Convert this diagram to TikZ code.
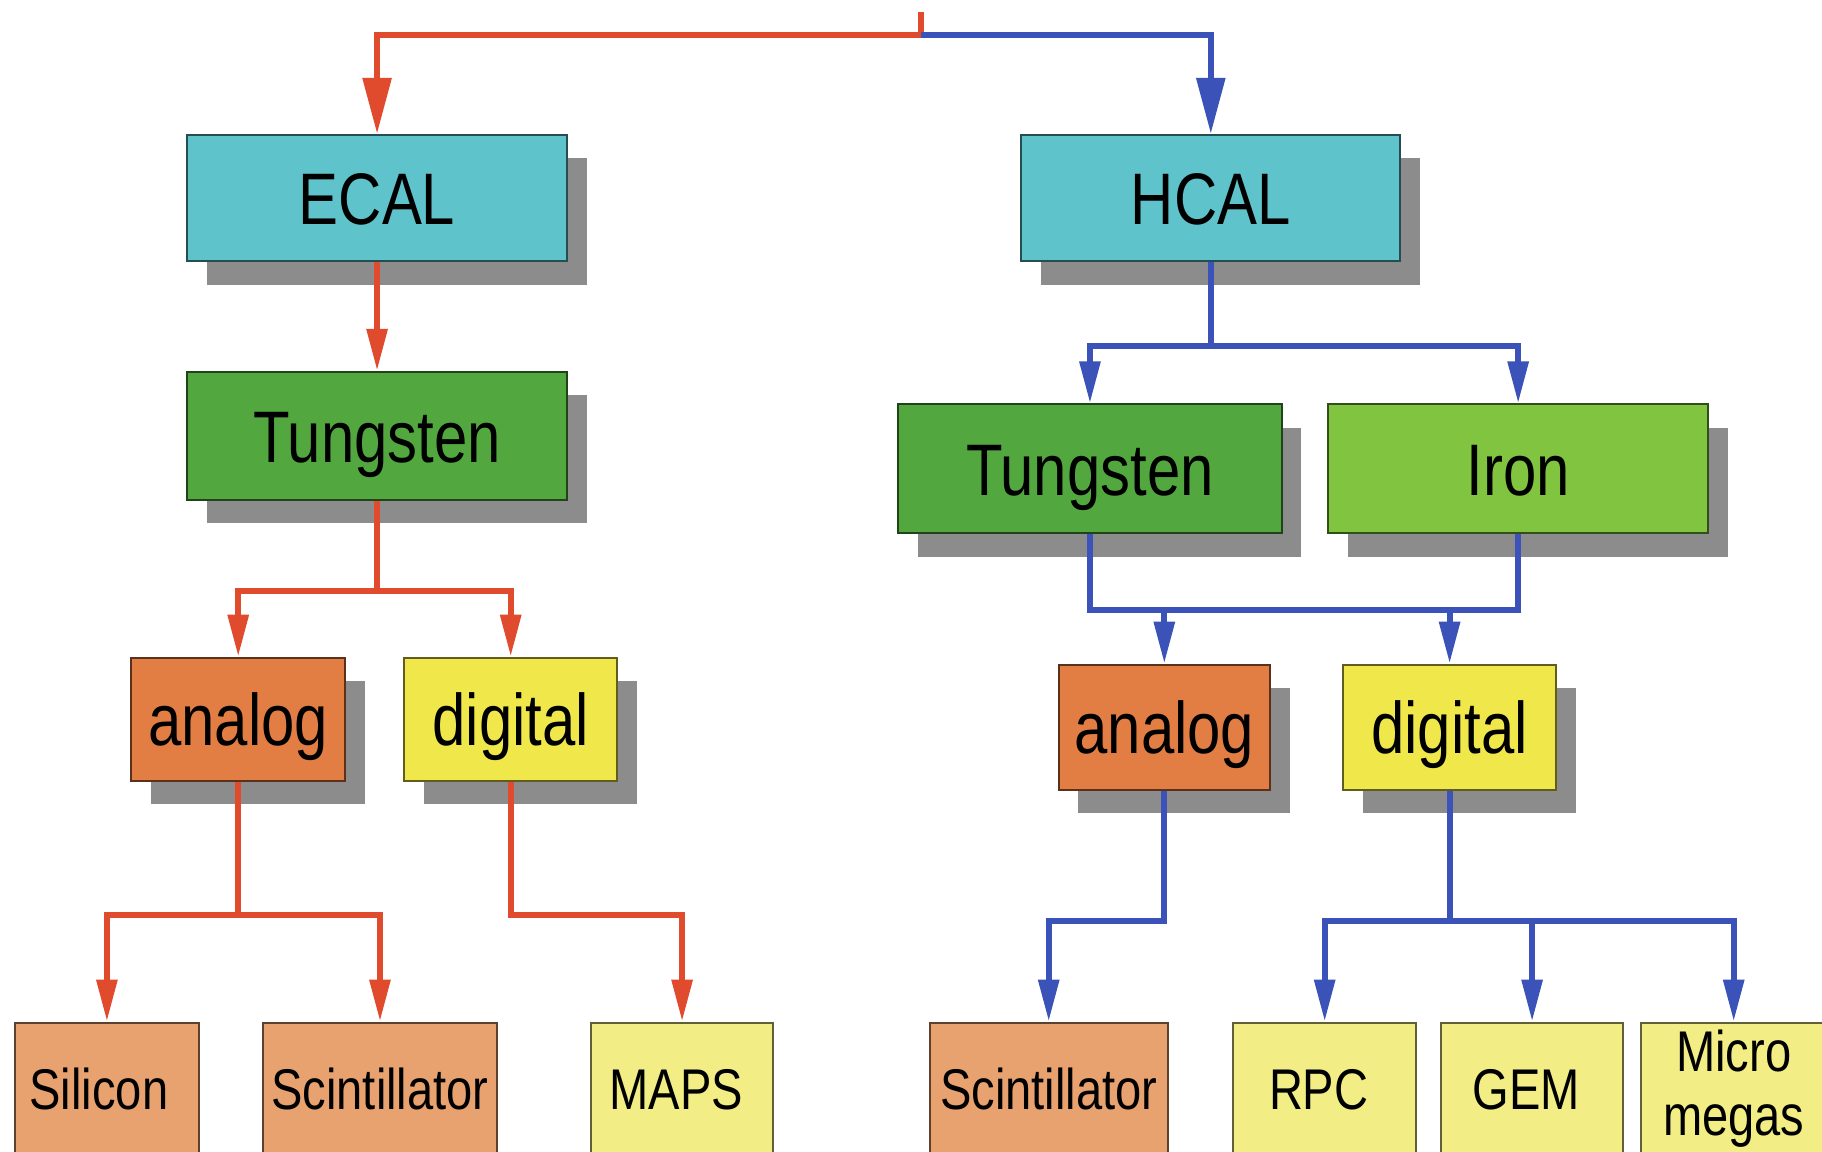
\documentclass[tikz,border=0pt]{standalone}
\usepackage{fontspec}
\newfontfamily\labfont{Liberation Sans}[FakeStretch=0.82]
\usetikzlibrary{arrows.meta,shadows,calc}
\definecolor{ccyan}{HTML}{5FC3CB}
\definecolor{cdgreen}{HTML}{52A83F}
\definecolor{clgreen}{HTML}{80C43F}
\definecolor{corange}{HTML}{E27D43}
\definecolor{cyellow}{HTML}{F0E84A}
\definecolor{csalmon}{HTML}{E8A270}
\definecolor{clyellow}{HTML}{F2EE85}
\definecolor{cshadow}{HTML}{8C8C8C}
\definecolor{cred}{HTML}{E04B2E}
\definecolor{cblue}{HTML}{3B52B8}
\newdimen\ux \ux=0.581pt
\begin{document}
\begin{tikzpicture}[x=0.581pt,y=-0.581pt,
  base/.style={rectangle, inner sep=0pt, line width=1pt, text=black},
  bigtxt/.style={font=\labfont\fontsize{36.5pt}{40pt}\selectfont, text height=26.3pt, text depth=0pt},
  smalltxt/.style={font=\labfont\fontsize{28.7pt}{32pt}\selectfont, text height=20.6pt, text depth=0pt},
  shad/.style={drop shadow={shadow xshift=9.9pt, shadow yshift=-11.6pt, fill=cshadow, opacity=1}},
  cyanbox/.style={base, bigtxt, shad, fill=ccyan, draw=ccyan!40!black},
  dgreenbox/.style={base, bigtxt, shad, fill=cdgreen, draw=cdgreen!40!black},
  lgreenbox/.style={base, bigtxt, shad, fill=clgreen, draw=clgreen!40!black},
  orangebox/.style={base, bigtxt, shad, fill=corange, draw=corange!40!black},
  yellowbox/.style={base, bigtxt, shad, fill=cyellow, draw=cyellow!40!black},
  salmonbox/.style={base, smalltxt, fill=csalmon, draw=csalmon!40!black},
  lyellowbox/.style={base, smalltxt, fill=clyellow, draw=clyellow!40!black},
  rl/.style={draw=cred, line width=3pt},
  bl/.style={draw=cblue, line width=3pt},
  rc/.style={rl, -{Triangle[length=21pt,width=10pt]}},
  bc/.style={bl, -{Triangle[length=21pt,width=10pt]}},
  rctop/.style={rl, -{Triangle[length=28pt,width=14pt]}},
  bctop/.style={bl, -{Triangle[length=28pt,width=14pt]}}
]
\useasboundingbox (0,0) rectangle (1568,991);
\clip (0,0) rectangle (1568,991);
\fill[white] (0,0) rectangle (1568,991);

% level 1
\node[cyanbox, minimum width=327*\ux, minimum height=109*\ux] (ecal) at (324.5,170.5) {ECAL};
\node[cyanbox, minimum width=326*\ux, minimum height=109*\ux] (hcal) at (1042,170.5) {HCAL};

% level 2
\node[dgreenbox, minimum width=327*\ux, minimum height=110*\ux] (ecalT) at (324.5,375) {Tungsten};
\node[dgreenbox, minimum width=330*\ux, minimum height=111*\ux] (hcalT) at (938,403.5) {Tungsten};
\node[lgreenbox, minimum width=327*\ux, minimum height=111*\ux] (iron) at (1306.5,403.5) {Iron};

% level 3
\node[orangebox, minimum width=184*\ux, minimum height=106*\ux] (ean) at (205,619) {analog};
\node[yellowbox, minimum width=183*\ux, minimum height=106*\ux] (edig) at (439.5,619) {digital};
\node[orangebox, minimum width=182*\ux, minimum height=108*\ux] (han) at (1002,626) {analog};
\node[yellowbox, minimum width=183*\ux, minimum height=108*\ux] (hdig) at (1247.5,626) {digital};

% level 4
\node[salmonbox, minimum width=158*\ux, minimum height=114*\ux] (esil) at (92,937) {\hspace*{-8pt}Silicon};
\node[salmonbox, minimum width=202*\ux, minimum height=114*\ux] (escint) at (327,937) {Scintillator};
\node[lyellowbox, minimum width=156*\ux, minimum height=114*\ux] (maps) at (587,937) {\hspace*{-6pt}MAPS};
\node[salmonbox, minimum width=205*\ux, minimum height=114*\ux] (hscint) at (902.5,937) {Scintillator};
\node[lyellowbox, minimum width=158*\ux, minimum height=114*\ux] (rpc) at (1140,937) {\hspace*{-6pt}RPC};
\node[lyellowbox, minimum width=157*\ux, minimum height=114*\ux] (gem) at (1318.5,937) {\hspace*{-6pt}GEM};
\node[lyellowbox, text height=, text depth=, align=center, minimum width=160*\ux, minimum height=114*\ux] (micro) at (1492,937) {Micro\\megas};

% connectors
\coordinate (top) at (793,10);
\coordinate (split) at (793,30);
\coordinate (hbar) at (0,525);
\draw[rl] (top) -- (split);
\draw[rctop] (split) -| (ecal.north);
\draw[bctop] (split) -| (hcal.north);

\draw[rc] (ecal.south) -- (ecalT.north);
\draw[rc] (ecalT.south) -- ++(0,78) -| (ean.north);
\draw[rc] (ecalT.south) -- ++(0,78) -| (edig.north);
\draw[rc] (ean.south) -- ++(0,115) -| (esil.north);
\draw[rc] (ean.south) -- ++(0,115) -| (escint.north);
\draw[rc] (edig.south) -- ++(0,115) -| (maps.north);

\draw[bc] (hcal.south) -- ++(0,72) -| (hcalT.north);
\draw[bc] (hcal.south) -- ++(0,72) -| (iron.north);
\draw[bl] (hcalT.south) -- (hcalT.south |- hbar) -- (iron.south |- hbar) -- (iron.south);
\draw[bc] (han.north |- hbar) -- (han.north);
\draw[bc] (hdig.north |- hbar) -- (hdig.north);
\draw[bc] (han.south) -- ++(0,112) -| (hscint.north);
\draw[bc] (hdig.south) -- ++(0,112) -| (rpc.north);
\draw[bc] (hdig.south) -- ++(0,112) -| (gem.north);
\draw[bc] (hdig.south) -- ++(0,112) -| (micro.north);
\end{tikzpicture}
\end{document}
